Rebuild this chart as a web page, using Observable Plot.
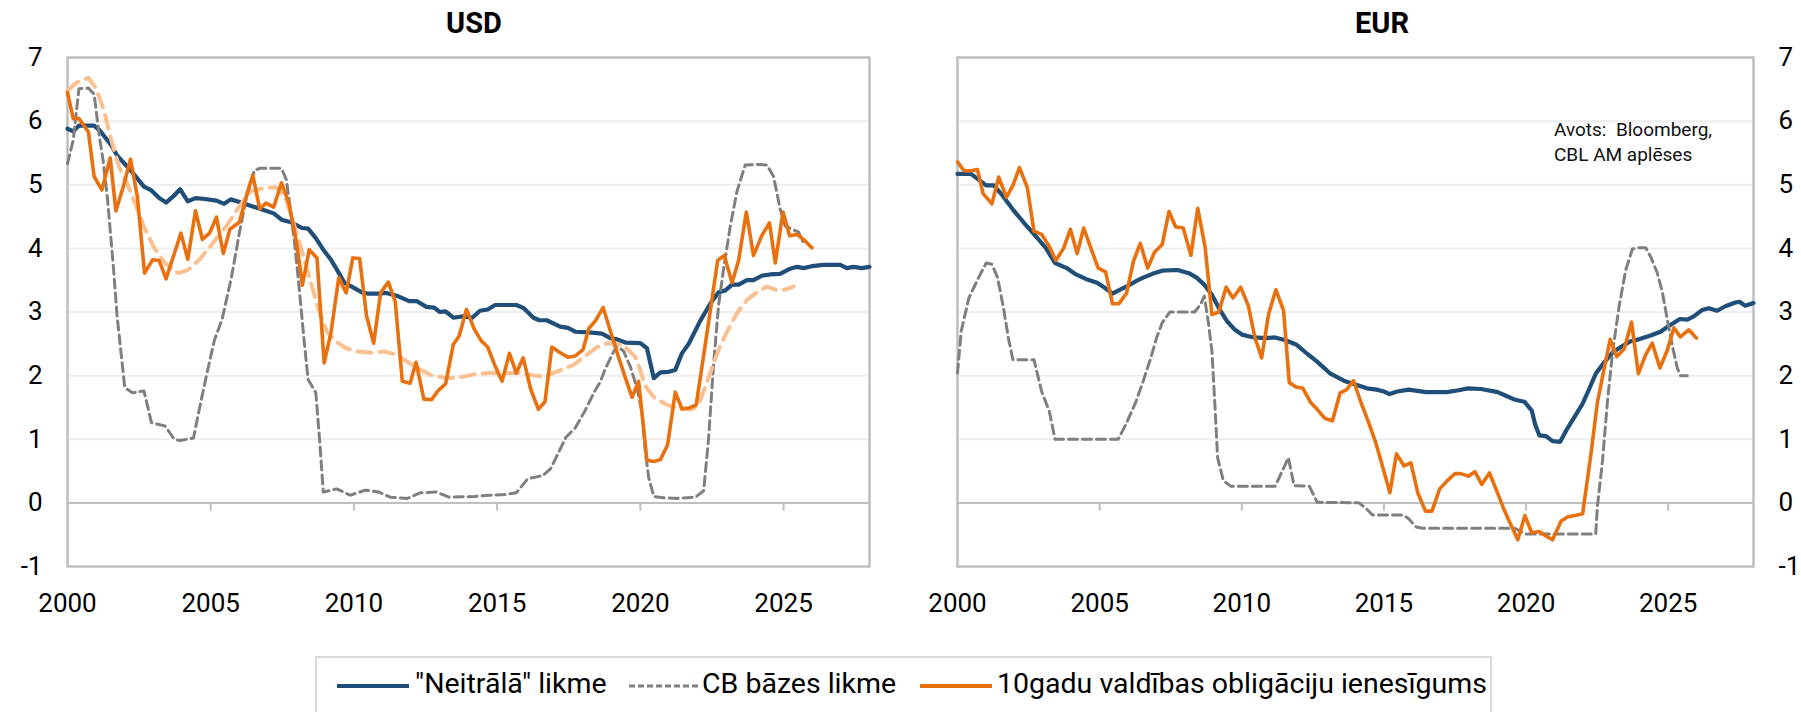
<!DOCTYPE html>
<html>
<head>
<meta charset="utf-8">
<script src="https://cdn.jsdelivr.net/npm/d3@7"></script>
<script src="https://cdn.jsdelivr.net/npm/@observablehq/plot@0.6"></script>
<style>
  body { margin: 0; background: #fff; }
  #root { position: relative; width: 1801px; height: 712px; overflow: hidden; font-family: Roboto, sans-serif; color: #000; }
  .title { position: absolute; top: 9px; font-weight: bold; font-size: 29px; line-height: 29px; transform: translateX(-50%); white-space: nowrap; }
  .note { position: absolute; left: 1554px; top: 117px; font-size: 19px; line-height: 25px; white-space: nowrap; color: #111; }
  .legend { position: absolute; left: 315px; top: 656px; width: 1177px; height: 80px; border: 2px solid #D9D9D9; box-sizing: border-box; }
  .legend .txt { position: absolute; top: 10px; font-size: 28.5px; line-height: 32px; white-space: nowrap; }
  .legend svg { position: absolute; top: 24px; }
  #usd, #eur { position: absolute; top: 0; }
</style>
</head>
<body>
<div id="root">
  <div class="title" style="left:474px">USD</div>
  <div class="title" style="left:1382px">EUR</div>
  <div id="usd" style="left:0px"></div>
  <div id="eur" style="left:900px"></div>
  <div class="note">Avots:&nbsp; Bloomberg,<br>CBL AM aplēses</div>
  <div class="legend" id="legend"></div>
</div>
<script>
// ---- tick values ----
const xTicks = [2000, 2005, 2010, 2015, 2020, 2025];
const zeroTicks = [2005, 2010, 2015, 2020, 2025];
const yTicks = [-1, 0, 1, 2, 3, 4, 5, 6, 7];
const gridLines = [1, 2, 3, 4, 5, 6];

// ---- series names ----
const seriesNames = ["\"Neitrālā\" likme", "CB bāzes likme", "10gadu valdības obligāciju ienesīgums"];
const panelTitles = ["USD", "EUR"];

// ---- USD ----
const usdNeutral = [[2000.0,5.88],[2000.2,5.84],[2000.4,5.93],[2000.93,5.93],[2001.13,5.85],[2001.53,5.62],[2001.73,5.46],[2002.2,5.23],[2002.67,4.97],[2002.93,4.91],[2003.2,4.79],[2003.44,4.72],[2003.7,4.82],[2003.93,4.93],[2004.2,4.74],[2004.47,4.79],[2004.73,4.78],[2005.2,4.75],[2005.47,4.70],[2005.7,4.77],[2006.0,4.73],[2006.47,4.66],[2006.87,4.60],[2007.2,4.55],[2007.47,4.45],[2007.8,4.41],[2008.2,4.32],[2008.4,4.31],[2008.67,4.16],[2008.93,3.98],[2009.2,3.82],[2009.4,3.67],[2009.67,3.46],[2010.0,3.38],[2010.27,3.31],[2010.47,3.29],[2010.87,3.29],[2011.13,3.30],[2011.53,3.25],[2011.93,3.17],[2012.2,3.17],[2012.53,3.08],[2012.8,3.07],[2013.0,3.0],[2013.2,3.01],[2013.47,2.91],[2013.8,2.93],[2014.13,2.91],[2014.4,3.02],[2014.67,3.04],[2014.93,3.11],[2015.67,3.11],[2015.93,3.06],[2016.27,2.91],[2016.47,2.87],[2016.73,2.87],[2017.2,2.77],[2017.47,2.75],[2017.73,2.69],[2018.2,2.68],[2018.66,2.66],[2018.95,2.59],[2019.19,2.57],[2019.48,2.52],[2020.0,2.51],[2020.23,2.43],[2020.47,1.96],[2020.7,2.05],[2020.99,2.06],[2021.22,2.09],[2021.45,2.35],[2021.69,2.50],[2022.09,2.86],[2022.44,3.13],[2022.73,3.31],[2022.97,3.34],[2023.2,3.43],[2023.43,3.43],[2023.72,3.50],[2023.95,3.50],[2024.24,3.57],[2024.53,3.59],[2024.88,3.60],[2025.23,3.68],[2025.47,3.71],[2025.7,3.69],[2025.99,3.72],[2026.4,3.74],[2026.98,3.74],[2027.21,3.69],[2027.44,3.71],[2027.73,3.69],[2028.0,3.71]];
const usdCB = [[2000.0,5.33],[2000.2,5.70],[2000.4,6.51],[2000.73,6.52],[2000.93,6.42],[2001.1,5.80],[2001.24,5.39],[2001.4,4.76],[2001.6,3.72],[2001.73,2.94],[2002.0,1.81],[2002.27,1.73],[2002.67,1.76],[2002.93,1.26],[2003.4,1.21],[2003.73,1.0],[2003.93,0.98],[2004.4,1.02],[2004.6,1.47],[2004.87,2.04],[2005.13,2.56],[2005.4,2.89],[2005.73,3.56],[2006.0,4.24],[2006.27,4.86],[2006.53,5.23],[2006.73,5.26],[2007.47,5.26],[2007.64,5.08],[2007.8,4.55],[2007.93,4.08],[2008.07,3.46],[2008.27,2.51],[2008.4,1.94],[2008.67,1.73],[2008.8,1.0],[2008.93,0.17],[2009.4,0.22],[2009.87,0.12],[2010.4,0.20],[2010.87,0.17],[2011.27,0.09],[2011.87,0.07],[2012.33,0.16],[2012.87,0.17],[2013.33,0.09],[2014.2,0.10],[2014.73,0.12],[2015.27,0.13],[2015.67,0.16],[2016.07,0.38],[2016.6,0.43],[2016.87,0.54],[2017.4,1.03],[2017.73,1.18],[2018.07,1.45],[2018.4,1.75],[2018.6,1.9],[2018.78,2.11],[2019.07,2.38],[2019.19,2.47],[2019.42,2.38],[2019.65,2.14],[2019.88,1.81],[2020.06,1.42],[2020.17,0.82],[2020.29,0.40],[2020.47,0.10],[2020.81,0.08],[2021.28,0.07],[2021.92,0.09],[2022.21,0.19],[2022.38,1.0],[2022.56,2.2],[2022.73,3.1],[2022.91,3.69],[2023.14,4.35],[2023.37,4.89],[2023.66,5.31],[2024.07,5.32],[2024.42,5.31],[2024.65,5.13],[2024.88,4.62],[2025.06,4.35],[2025.35,4.29],[2025.52,4.26],[2025.67,4.11]];
const usdYield = [[2000.0,6.45],[2000.2,6.04],[2000.4,6.04],[2000.73,5.83],[2000.93,5.13],[2001.2,4.92],[2001.49,5.42],[2001.69,4.59],[2001.93,4.94],[2002.2,5.40],[2002.44,4.81],[2002.69,3.61],[2002.97,3.82],[2003.2,3.81],[2003.44,3.52],[2003.73,3.92],[2003.96,4.24],[2004.2,3.83],[2004.47,4.59],[2004.71,4.14],[2004.96,4.24],[2005.2,4.49],[2005.44,3.92],[2005.67,4.30],[2006.0,4.41],[2006.27,4.86],[2006.47,5.15],[2006.71,4.62],[2006.93,4.71],[2007.2,4.65],[2007.47,5.03],[2007.73,4.71],[2008.0,4.08],[2008.2,3.42],[2008.44,3.98],[2008.71,3.85],[2008.96,2.2],[2009.2,2.68],[2009.47,3.54],[2009.73,3.30],[2009.96,3.85],[2010.2,3.84],[2010.44,2.94],[2010.69,2.51],[2010.93,3.30],[2011.2,3.47],[2011.44,3.17],[2011.69,1.91],[2011.96,1.88],[2012.17,2.21],[2012.44,1.63],[2012.71,1.62],[2012.93,1.76],[2013.2,1.87],[2013.47,2.49],[2013.67,2.62],[2013.93,3.04],[2014.2,2.73],[2014.44,2.55],[2014.67,2.45],[2014.93,2.15],[2015.17,1.91],[2015.43,2.35],[2015.67,2.04],[2015.91,2.28],[2016.17,1.79],[2016.44,1.47],[2016.67,1.59],[2016.91,2.45],[2017.2,2.36],[2017.47,2.29],[2017.73,2.31],[2018.0,2.41],[2018.2,2.74],[2018.43,2.86],[2018.7,3.07],[2019.01,2.62],[2019.24,2.29],[2019.48,1.96],[2019.71,1.66],[2019.94,1.91],[2020.23,0.67],[2020.47,0.65],[2020.7,0.68],[2020.95,0.91],[2021.22,1.74],[2021.45,1.48],[2021.69,1.49],[2021.95,1.54],[2022.33,2.68],[2022.7,3.81],[2022.93,3.89],[2023.2,3.46],[2023.43,3.81],[2023.7,4.57],[2023.95,3.89],[2024.24,4.20],[2024.51,4.40],[2024.71,3.77],[2024.98,4.57],[2025.21,4.20],[2025.47,4.22],[2025.72,4.13],[2025.99,4.01]];
const usdTrend = [[2000.0,6.48],[2000.33,6.61],[2000.73,6.68],[2001.0,6.51],[2001.27,6.17],[2001.53,5.70],[2001.8,5.28],[2002.13,4.97],[2002.4,4.66],[2002.67,4.34],[2003.0,4.03],[2003.4,3.77],[2003.87,3.61],[2004.2,3.66],[2004.6,3.82],[2005.07,4.08],[2005.53,4.34],[2006.0,4.66],[2006.4,4.90],[2006.8,4.94],[2007.27,4.96],[2007.6,4.81],[2007.93,4.34],[2008.2,3.93],[2008.53,3.41],[2008.8,2.99],[2009.07,2.68],[2009.4,2.53],[2009.73,2.43],[2010.13,2.38],[2010.6,2.36],[2011.07,2.38],[2011.47,2.33],[2011.93,2.20],[2012.33,2.09],[2012.73,2.0],[2013.27,1.96],[2013.8,1.98],[2014.27,2.03],[2014.73,2.04],[2015.27,2.04],[2015.8,2.04],[2016.33,2.0],[2016.67,1.99],[2017.13,2.07],[2017.67,2.17],[2018.13,2.33],[2018.5,2.45],[2018.8,2.50],[2019.07,2.51],[2019.42,2.47],[2019.83,2.29],[2020.0,2.08],[2020.17,1.84],[2020.47,1.66],[2020.93,1.54],[2021.4,1.47],[2021.8,1.47],[2022.03,1.54],[2022.33,1.90],[2022.56,2.20],[2022.79,2.47],[2023.08,2.74],[2023.37,2.98],[2023.72,3.19],[2024.07,3.31],[2024.42,3.40],[2024.77,3.34],[2025.06,3.35],[2025.35,3.40]];

// ---- EUR ----
const eurNeutral = [[2000.0,5.17],[2000.47,5.17],[2000.74,5.08],[2001.01,4.99],[2001.28,4.99],[2001.55,4.85],[2001.95,4.61],[2002.36,4.39],[2002.76,4.19],[2003.1,4.01],[2003.43,3.77],[2003.84,3.69],[2004.17,3.59],[2004.51,3.52],[2004.91,3.46],[2005.18,3.38],[2005.45,3.29],[2005.72,3.35],[2005.99,3.41],[2006.26,3.48],[2006.53,3.54],[2006.86,3.60],[2007.2,3.65],[2007.74,3.66],[2008.14,3.61],[2008.41,3.54],[2008.68,3.43],[2008.95,3.27],[2009.22,3.04],[2009.49,2.85],[2009.76,2.72],[2010.03,2.64],[2010.43,2.60],[2010.83,2.59],[2011.17,2.60],[2011.51,2.56],[2011.91,2.49],[2012.31,2.34],[2012.65,2.22],[2013.12,2.03],[2013.59,1.92],[2013.99,1.86],[2014.4,1.80],[2014.74,1.78],[2015.0,1.75],[2015.2,1.71],[2015.47,1.75],[2015.87,1.78],[2016.48,1.74],[2017.22,1.74],[2017.62,1.77],[2017.96,1.80],[2018.42,1.79],[2019.0,1.74],[2019.31,1.68],[2019.62,1.62],[2019.94,1.59],[2020.2,1.45],[2020.32,1.23],[2020.47,1.06],[2020.7,1.05],[2020.93,0.97],[2021.2,0.96],[2021.44,1.16],[2021.69,1.34],[2021.99,1.56],[2022.22,1.79],[2022.45,2.03],[2022.75,2.21],[2023.04,2.36],[2023.33,2.45],[2023.68,2.54],[2023.97,2.57],[2024.38,2.63],[2024.73,2.69],[2025.02,2.78],[2025.41,2.89],[2025.67,2.88],[2025.9,2.93],[2026.19,3.03],[2026.43,3.06],[2026.72,3.02],[2027.01,3.09],[2027.36,3.15],[2027.51,3.16],[2027.71,3.10],[2028.0,3.14]];
const eurCB = [[2000.0,2.04],[2000.13,2.70],[2000.4,3.22],[2000.74,3.54],[2001.01,3.77],[2001.21,3.75],[2001.41,3.54],[2001.62,3.06],[2001.79,2.59],[2001.95,2.25],[2002.69,2.25],[2002.96,1.75],[2003.23,1.44],[2003.43,1.0],[2005.65,1.0],[2005.92,1.23],[2006.26,1.57],[2006.53,1.91],[2006.8,2.28],[2007.0,2.59],[2007.2,2.83],[2007.47,3.0],[2008.34,3.0],[2008.55,3.12],[2008.68,3.25],[2008.82,2.85],[2008.95,2.38],[2009.06,1.49],[2009.15,0.71],[2009.35,0.35],[2009.62,0.26],[2011.17,0.26],[2011.37,0.45],[2011.64,0.71],[2011.84,0.27],[2012.38,0.26],[2012.65,0.01],[2014.13,0.0],[2014.4,-0.10],[2014.6,-0.19],[2015.68,-0.19],[2015.87,-0.25],[2016.14,-0.38],[2016.35,-0.40],[2019.6,-0.40],[2020.0,-0.49],[2022.45,-0.49],[2022.51,-0.05],[2022.69,0.67],[2022.86,1.58],[2023.04,2.36],[2023.27,3.08],[2023.5,3.65],[2023.74,3.99],[2023.97,4.01],[2024.21,4.01],[2024.38,3.87],[2024.61,3.62],[2024.79,3.32],[2024.96,2.90],[2025.14,2.48],[2025.32,2.12],[2025.43,2.0],[2025.67,2.0]];
const eurYield = [[2000.0,5.36],[2000.23,5.22],[2000.47,5.22],[2000.7,5.24],[2000.9,4.86],[2001.21,4.70],[2001.45,5.12],[2001.72,4.80],[2001.95,4.99],[2002.18,5.27],[2002.46,4.95],[2002.69,4.27],[2002.96,4.22],[2003.23,4.03],[2003.46,3.81],[2003.73,4.0],[2003.97,4.30],[2004.21,3.92],[2004.44,4.32],[2004.71,3.98],[2004.95,3.69],[2005.21,3.63],[2005.45,3.13],[2005.68,3.13],[2005.95,3.30],[2006.19,3.80],[2006.43,4.08],[2006.69,3.69],[2006.93,3.94],[2007.2,4.06],[2007.44,4.58],[2007.67,4.34],[2007.94,4.32],[2008.21,3.89],[2008.45,4.63],[2008.71,4.02],[2008.95,2.96],[2009.19,3.0],[2009.45,3.39],[2009.69,3.22],[2009.96,3.39],[2010.23,3.10],[2010.46,2.60],[2010.7,2.28],[2010.94,2.96],[2011.2,3.35],[2011.47,3.02],[2011.67,1.89],[2011.91,1.82],[2012.15,1.80],[2012.42,1.58],[2012.65,1.47],[2012.92,1.33],[2013.19,1.29],[2013.46,1.73],[2013.69,1.78],[2013.93,1.92],[2014.2,1.57],[2014.44,1.29],[2014.71,0.95],[2014.98,0.53],[2015.21,0.16],[2015.44,0.77],[2015.71,0.58],[2015.95,0.63],[2016.19,0.16],[2016.46,-0.13],[2016.69,-0.13],[2016.96,0.22],[2017.23,0.35],[2017.5,0.46],[2017.7,0.46],[2017.97,0.42],[2018.2,0.49],[2018.44,0.29],[2018.71,0.47],[2018.94,0.22],[2019.2,-0.08],[2019.45,-0.33],[2019.71,-0.58],[2019.96,-0.20],[2020.2,-0.47],[2020.47,-0.45],[2020.7,-0.52],[2020.93,-0.58],[2021.23,-0.29],[2021.46,-0.22],[2021.72,-0.20],[2021.99,-0.17],[2022.28,0.76],[2022.51,1.58],[2022.75,2.12],[2022.96,2.57],[2023.19,2.30],[2023.45,2.42],[2023.71,2.84],[2023.95,2.03],[2024.21,2.33],[2024.44,2.51],[2024.71,2.12],[2024.96,2.39],[2025.2,2.75],[2025.43,2.61],[2025.72,2.72],[2025.99,2.59]];

// ---- styles ----
const C = { navy: "#1F4E79", gray: "#7F7F7F", orange: "#E8700F", peach: "#FAC090", frame: "#BFBFBF", grid: "#EDEDED" };
const X = d => d[0], Y = d => d[1];

function panel({neutral, cb, yld, trend, axisSide, width, marginLeft, marginRight}) {
  const marks = [
    Plot.ruleY(gridLines, {stroke: C.grid, strokeWidth: 2}),
    Plot.ruleY([0], {stroke: C.frame, strokeWidth: 2}),
    Plot.ruleX(zeroTicks, {y1: () => 0, y2: () => -0.13, stroke: C.frame, strokeWidth: 2}),
    Plot.frame({stroke: C.frame, strokeWidth: 2.5}),
    Plot.line(neutral, {x: X, y: Y, stroke: C.navy, strokeWidth: 4.2}),
    Plot.line(cb, {x: X, y: Y, stroke: C.gray, strokeWidth: 3, strokeDasharray: "9,5"})
  ];
  if (trend) marks.push(Plot.line(trend, {x: X, y: Y, stroke: C.peach, strokeWidth: 4, strokeDasharray: "14,8"}));
  marks.push(Plot.line(yld, {x: X, y: Y, stroke: C.orange, strokeWidth: 3.6}));
  return Plot.plot({
    width, height: 630,
    marginLeft, marginRight, marginTop: 57, marginBottom: 64,
    style: {fontFamily: "Roboto, sans-serif", fontSize: "26px", color: "#000", background: "transparent", overflow: "visible"},
    x: {domain: [2000, 2028], ticks: xTicks, tickFormat: d => String(d), tickSize: 0, tickPadding: 27, label: null},
    y: {domain: [-1, 7], ticks: yTicks, tickFormat: d => String(d), tickSize: 0, tickPadding: 25, label: null, axis: axisSide},
    marks
  });
}

document.getElementById("usd").append(panel({neutral: usdNeutral, cb: usdCB, yld: usdYield, trend: usdTrend, axisSide: "left", width: 890, marginLeft: 67, marginRight: 21}));
document.getElementById("eur").append(panel({neutral: eurNeutral, cb: eurCB, yld: eurYield, trend: null, axisSide: "right", width: 901, marginLeft: 57, marginRight: 48}));

// ---- legend ----
const legend = document.getElementById("legend");
const items = [
  {name: seriesNames[0], color: C.navy, dash: null, w: 4.2, sx: 20, tx: 98},
  {name: seriesNames[1], color: C.gray, dash: "6,3", w: 3, sx: 312, tx: 385},
  {name: seriesNames[2], color: C.orange, dash: null, w: 4.2, sx: 603, tx: 680}
];
for (const it of items) {
  const svg = d3.create("svg").attr("width", 72).attr("height", 8).style("left", it.sx + "px");
  svg.append("line").attr("x1", 0).attr("x2", 72).attr("y1", 4).attr("y2", 4)
    .attr("stroke", it.color).attr("stroke-width", it.w).attr("stroke-dasharray", it.dash);
  legend.append(svg.node());
  const t = document.createElement("div");
  t.className = "txt"; t.style.left = it.tx + "px"; t.textContent = it.name;
  legend.append(t);
}
</script>
</body>
</html>
